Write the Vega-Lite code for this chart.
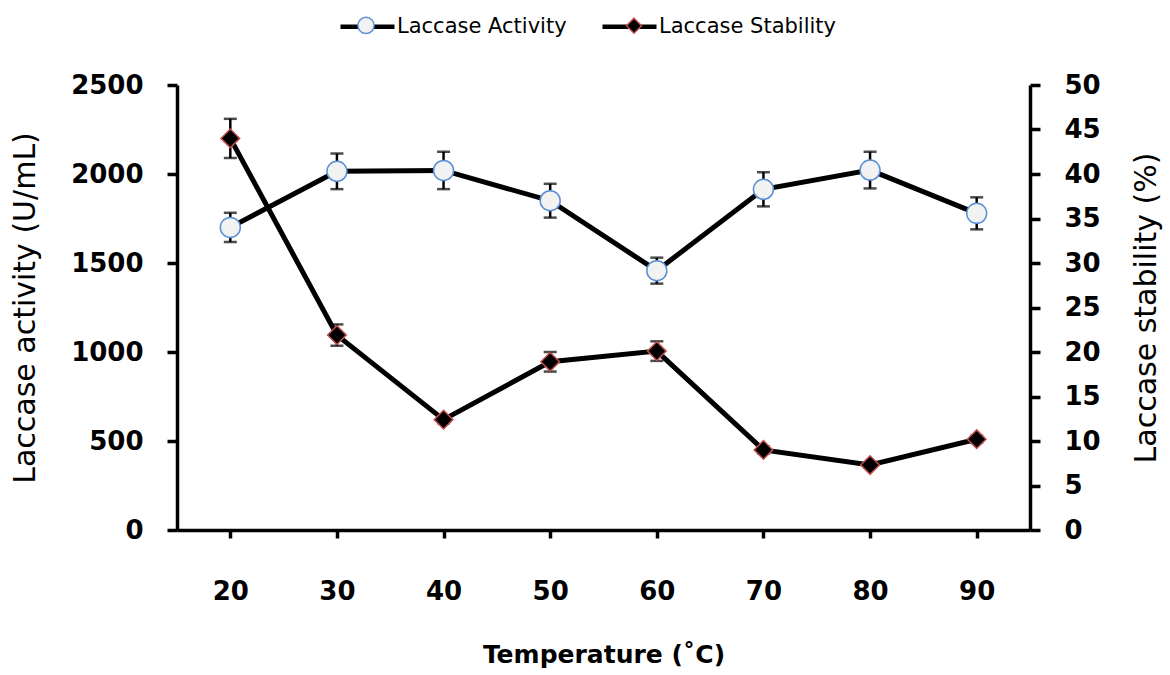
{
  "$schema": "https://vega.github.io/schema/vega-lite/v6.json",
  "width": 853,
  "height": 445,
  "autosize": {"type": "none"},
  "padding": {"left": 177, "top": 85, "right": 140, "bottom": 145},
  "background": "white",
  "config": {
    "view": {"stroke": null},
    "axis": {
      "domainColor": "black",
      "domainWidth": 3.5,
      "tickColor": "black",
      "tickWidth": 3.5,
      "grid": false,
      "labelFont": "DejaVu Sans",
      "labelFontWeight": "bold",
      "labelFontSize": 26,
      "labelColor": "black",
      "titleFont": "DejaVu Sans",
      "titleColor": "black"
    },
    "legend": {
      "labelFont": "DejaVu Sans",
      "labelFontSize": 21,
      "labelColor": "black",
      "labelLimit": 400
    }
  },
  "data": {
    "values": [
      {"temp": 20, "series": "Laccase Activity", "value": 1700, "err": 82},
      {"temp": 30, "series": "Laccase Activity", "value": 2015, "err": 100},
      {"temp": 40, "series": "Laccase Activity", "value": 2020, "err": 105},
      {"temp": 50, "series": "Laccase Activity", "value": 1850, "err": 95},
      {"temp": 60, "series": "Laccase Activity", "value": 1457, "err": 73},
      {"temp": 70, "series": "Laccase Activity", "value": 1914, "err": 96},
      {"temp": 80, "series": "Laccase Activity", "value": 2022, "err": 103},
      {"temp": 90, "series": "Laccase Activity", "value": 1779, "err": 90},
      {"temp": 20, "series": "Laccase Stability", "value": 44.0, "err": 2.2},
      {"temp": 30, "series": "Laccase Stability", "value": 21.9, "err": 1.2},
      {"temp": 40, "series": "Laccase Stability", "value": 12.4, "err": 0.4},
      {"temp": 50, "series": "Laccase Stability", "value": 18.9, "err": 1.1},
      {"temp": 60, "series": "Laccase Stability", "value": 20.1, "err": 1.1},
      {"temp": 70, "series": "Laccase Stability", "value": 9.0, "err": 0.4},
      {"temp": 80, "series": "Laccase Stability", "value": 7.3, "err": 0.3},
      {"temp": 90, "series": "Laccase Stability", "value": 10.2, "err": 0.4}
    ]
  },
  "encoding": {
    "x": {
      "field": "temp",
      "type": "ordinal",
      "scale": {"type": "point", "padding": 0.5},
      "axis": {
        "title": "Temperature (˚C)",
        "labelAngle": 0,
        "tickSize": 8,
        "labelPadding": 40,
        "titleFontSize": 25,
        "titleFontWeight": "bold",
        "titlePadding": 38
      }
    }
  },
  "layer": [
    {
      "transform": [{"filter": "datum.series === 'Laccase Activity'"}],
      "encoding": {
        "y": {
          "field": "value",
          "type": "quantitative",
          "scale": {"domain": [0, 2500]},
          "axis": {
            "title": "Laccase activity (U/mL)",
            "values": [0, 500, 1000, 1500, 2000, 2500],
            "format": "d",
            "tickSize": 10,
            "labelPadding": 24,
            "titleFontSize": 30,
            "titleFontWeight": "normal",
            "titlePadding": 30
          }
        }
      },
      "layer": [
        {
          "mark": {"type": "errorbar", "color": "black", "thickness": 2.5, "ticks": {"size": 13}},
          "encoding": {"yError": {"field": "err"}}
        },
        {
          "mark": {"type": "line", "strokeWidth": 5},
          "encoding": {
            "color": {
              "field": "series",
              "type": "nominal",
              "scale": {"domain": ["Laccase Activity", "Laccase Stability"], "range": ["black", "black"]},
              "legend": {
                "orient": "none", "legendX": 161, "legendY": -88, "direction": "horizontal",
                "title": null, "symbolType": "stroke", "symbolStrokeWidth": 4.5, "symbolSize": 2916,
                "labelOffset": 0, "columnPadding": 26, "padding": 0
              }
            }
          }
        },
        {
          "mark": {"type": "point", "filled": true, "size": 4444, "strokeWidth": 1.5, "opacity": 1},
          "encoding": {
            "shape": {
              "field": "series", "type": "nominal",
              "scale": {"range": ["M-0.3,0A0.3,0.3,0,1,1,0.3,0A0.3,0.3,0,1,1,-0.3,0Z", "M0,-0.28L0.28,0L0,0.28L-0.28,0Z"]},
              "legend": {
                "orient": "none", "legendX": 161, "legendY": -88, "direction": "horizontal",
                "title": null, "symbolStrokeWidth": 1.5, "symbolSize": 2916,
                "labelOffset": 0, "columnPadding": 212, "padding": 0, "labelExpr": "''"
              }
            },
            "fill": {
              "field": "series", "type": "nominal",
              "scale": {"range": ["#f2f2f2", "#000000"]},
              "legend": {
                "orient": "none", "legendX": 161, "legendY": -88, "direction": "horizontal",
                "title": null, "symbolStrokeWidth": 1.5, "symbolSize": 2916,
                "labelOffset": 0, "columnPadding": 212, "padding": 0, "labelExpr": "''"
              }
            },
            "stroke": {
              "field": "series", "type": "nominal",
              "scale": {"range": ["#5b8fd6", "#c0504d"]},
              "legend": {
                "orient": "none", "legendX": 161, "legendY": -88, "direction": "horizontal",
                "title": null, "symbolStrokeWidth": 1.5, "symbolSize": 2916,
                "labelOffset": 0, "columnPadding": 212, "padding": 0, "labelExpr": "''"
              }
            }
          }
        }
      ]
    },
    {
      "transform": [{"filter": "datum.series === 'Laccase Stability'"}],
      "encoding": {
        "y": {
          "field": "value",
          "type": "quantitative",
          "scale": {"domain": [0, 50]},
          "axis": {
            "orient": "right",
            "title": "Laccase stability (%)",
            "values": [0, 5, 10, 15, 20, 25, 30, 35, 40, 45, 50],
            "tickSize": 10,
            "labelPadding": 24,
            "titleFontSize": 30,
            "titleFontWeight": "normal",
            "titleAngle": -90,
            "titleBaseline": "top",
            "titlePadding": 31
          }
        }
      },
      "layer": [
        {
          "mark": {"type": "errorbar", "color": "black", "thickness": 2.5, "ticks": {"size": 13}},
          "encoding": {"yError": {"field": "err"}}
        },
        {
          "mark": {"type": "line", "strokeWidth": 5},
          "encoding": {
            "color": {
              "field": "series",
              "type": "nominal",
              "scale": {"domain": ["Laccase Activity", "Laccase Stability"], "range": ["black", "black"]},
              "legend": {
                "orient": "none", "legendX": 161, "legendY": -88, "direction": "horizontal",
                "title": null, "symbolType": "stroke", "symbolStrokeWidth": 4.5, "symbolSize": 2916,
                "labelOffset": 0, "columnPadding": 26, "padding": 0
              }
            }
          }
        },
        {
          "mark": {"type": "point", "filled": true, "size": 4444, "strokeWidth": 1.5, "opacity": 1},
          "encoding": {
            "shape": {"field": "series", "type": "nominal"},
            "fill": {"field": "series", "type": "nominal"},
            "stroke": {"field": "series", "type": "nominal"}
          }
        }
      ]
    }
  ],
  "resolve": {"scale": {"y": "independent"}}
}
